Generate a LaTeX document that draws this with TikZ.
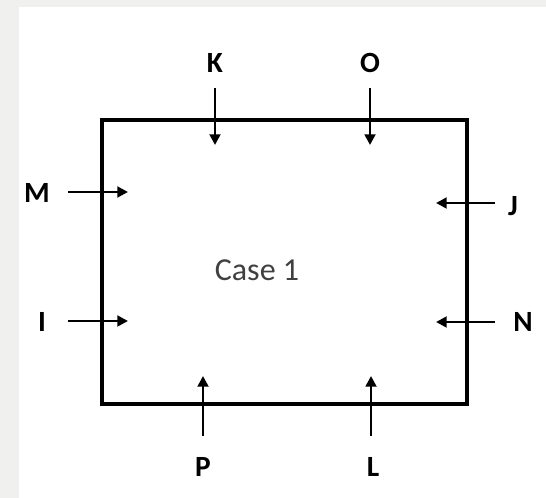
\documentclass[tikz,border=0pt]{standalone}
\usepackage{fontspec}
\setmainfont{Carlito}
\usetikzlibrary{arrows.meta}
\definecolor{bggray}{HTML}{F0F0EE}
\definecolor{casegray}{HTML}{404040}
\tikzset{
  lbl/.style={font=\fontsize{22}{24}\selectfont\bfseries, text=black, inner sep=0pt},
  inarrow/.style={line width=2pt, -{Triangle[length=8pt,width=8pt]}},
  boxstyle/.style={draw=black, line width=2.4pt, minimum width=273.75pt, minimum height=213pt, inner sep=0pt}
}
\begin{document}
\begin{tikzpicture}[x=0.75pt,y=-0.75pt]
\useasboundingbox (0,0) rectangle (546,498);
\fill[bggray] (0,0) rectangle (546,498);
\fill[white] (19,7) rectangle (546,498);
\node[boxstyle] (box) at (284.5,262) {};
\node[font=\fontsize{24}{26}\selectfont, text=casegray] (case) at (257,270) {Case 1};
% labels
\node[lbl] (K) at (215,63) {K};
\node[lbl] (O) at (370,63) {O};
\node[lbl] (M) at (37,193) {M};
\node[lbl] (I) at (42,322) {I};
\node[lbl] (J) at (513,206) {J};
\node[lbl] (N) at (523,322) {N};
\node[lbl] (P) at (203,467) {P};
\node[lbl] (L) at (373,467) {L};
% arrow endpoints
\coordinate (Ks) at (215,88); \coordinate (Ke) at (215,145);
\coordinate (Os) at (370,88); \coordinate (Oe) at (370,145);
\coordinate (Ms) at (68,192); \coordinate (Me) at (128,192);
\coordinate (Is) at (68,321); \coordinate (Ie) at (128,321);
\coordinate (Js) at (495,203); \coordinate (Je) at (436,203);
\coordinate (Ns) at (495,322); \coordinate (Ne) at (436,322);
\coordinate (Ps) at (203,436); \coordinate (Pe) at (203,376);
\coordinate (Ls) at (371,436); \coordinate (Le) at (371,376);
\draw[inarrow] (Ks) -- (Ke);
\draw[inarrow] (Os) -- (Oe);
\draw[inarrow] (Ms) -- (Me);
\draw[inarrow] (Is) -- (Ie);
\draw[inarrow] (Js) -- (Je);
\draw[inarrow] (Ns) -- (Ne);
\draw[inarrow] (Ps) -- (Pe);
\draw[inarrow] (Ls) -- (Le);
\end{tikzpicture}
\end{document}
